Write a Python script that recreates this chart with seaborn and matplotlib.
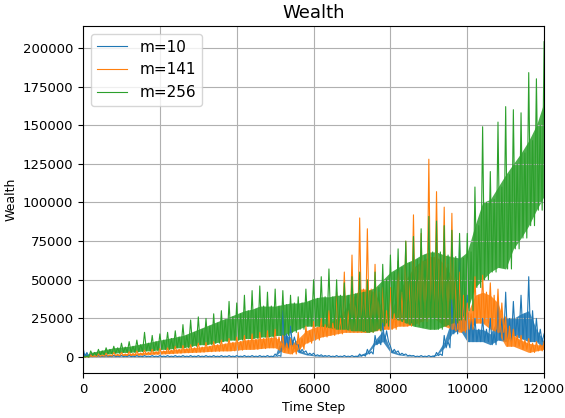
import numpy as np
import pandas as pd
import seaborn as sns
import matplotlib.pyplot as plt
from matplotlib.ticker import MultipleLocator

# time grid (every 200 steps), values in thousands
steps = np.arange(0, 12001, 200)
labels = ["m=10", "m=141", "m=256"]
colors = ["#1f77b4", "#ff7f0e", "#2ca02c"]

# m=10
m10_low = [0, 0.3, 0.3, 0.3, 0.3, 0.3, 0.3, 0.3, 0.3, 0.3,
           0.3, 0.3, 0.3, 0.3, 0.3, 0.3, 0.3, 0.3, 0.3, 0.3,
           0.3, 0.3, 0.3, 0.3, 0.3, 0.5, 5, 8, 3, 1.5,
           0.8, 0.5, 0.3, 0.3, 0.3, 0.3, 0.6, 2, 8, 10,
           3, 1.5, 0.8, 0.3, 0.3, 0.3, 1, 6, 15, 18,
           10, 10, 10, 8, 11, 10, 14, 12, 10, 10,
           5]
m10_core = [3, 1, 0.6, 0.6, 0.6, 0.6, 0.6, 0.6, 0.6, 0.6,
            0.6, 0.6, 0.6, 0.6, 0.6, 0.6, 0.6, 0.6, 0.6, 0.6,
            0.6, 0.6, 0.6, 0.6, 0.6, 1, 15, 13, 5, 2.5,
            1.5, 1, 0.6, 0.6, 0.6, 0.6, 1.5, 3.5, 11, 17,
            5, 2.5, 1.2, 0.6, 0.6, 0.6, 2, 10, 25, 35,
            25, 18, 18, 15, 25, 25, 25, 28, 30, 18,
            10]
m10_peak = [6, 2, 1, 1, 1, 1, 1, 1, 1, 1,
            1, 1, 1, 1, 1, 1, 1, 1, 1, 1,
            1, 1, 1, 1, 1, 2, 30, 20, 8, 4,
            2.5, 1.5, 1, 1, 1, 1, 2, 5, 14, 22,
            7, 4, 2, 1, 1, 1, 3, 14, 37, 75,
            40, 25, 25, 25, 37, 42, 36, 40, 52, 25,
            15]

# m=141
m141_low = [0, 0.3, 0.5, 0.6, 0.8, 1, 1, 1.2, 1.5, 1.8,
            2, 2.2, 2.5, 2.8, 3, 3.2, 3.5, 3.8, 4, 4,
            4.5, 5, 5, 5.5, 6, 6, 3, 2, 5, 9,
            11, 13, 14, 15, 16, 16, 16, 16, 17, 18,
            18, 20, 20, 21, 23, 26, 24, 20, 18, 16,
            18, 22, 22, 18, 16, 7, 7, 5, 3, 4,
            5]
m141_core = [0.3, 1, 1.2, 1.5, 1.8, 2, 2.3, 2.6, 3, 3.5,
             4, 4.5, 5, 5.5, 6, 6.5, 7, 8, 8.5, 9.5,
             10, 11, 11.5, 12, 12.5, 13, 9, 8, 12, 17,
             19, 21, 22, 25, 30, 38, 44, 44, 42, 30,
             28, 42, 50, 58, 62, 65, 65, 60, 52, 40,
             28, 40, 42, 40, 35, 20, 14, 11, 9, 8,
             8]
m141_peak = [0.5, 1.5, 2, 2.5, 3, 3, 3.5, 4, 4.5, 5,
             5.5, 6, 7, 7.5, 8, 9, 9.5, 10, 11, 12,
             13, 14, 15, 16, 17, 18, 14, 12, 16, 20,
             23, 25, 30, 42, 55, 66, 90, 83, 60, 45,
             45, 62, 75, 92, 80, 128, 107, 97, 93, 55,
             35, 52, 53, 48, 44, 26, 18, 14, 12, 10,
             10]

# m=256
m256_low = [0, 1, 1.5, 2, 2.5, 3, 3, 3.5, 4, 4,
            5, 5, 6, 6, 7, 8, 8, 9, 10, 11,
            11, 12, 12, 13, 13, 14, 14, 16, 18, 20,
            20, 20, 19, 18, 18, 17, 17, 16, 17, 20,
            25, 24, 22, 20, 19, 18, 18, 20, 22, 24,
            30, 45, 50, 55, 58, 57, 70, 77, 85, 95,
            104]
m256_core = [0.5, 3, 4, 5, 6, 6.5, 7, 8, 9, 10,
             11, 12, 13, 14, 16, 18, 20, 22, 24, 26,
             28, 30, 31, 33, 33, 33, 34, 35, 35, 36,
             38, 39, 39, 40, 40, 41, 42, 43, 45, 50,
             55, 58, 61, 63, 66, 68, 68, 66, 65, 64,
             68, 85, 100, 102, 110, 118, 125, 132, 140, 150,
             165]
m256_peak = [1, 4, 5, 6, 7, 9, 10, 11, 16, 14,
             15, 16, 17, 21, 24, 26, 25, 28, 30, 36,
             35, 40, 43, 46, 42, 44, 43, 40, 39, 44,
             50, 52, 57, 50, 48, 52, 55, 50, 55, 60,
             66, 70, 75, 78, 83, 91, 88, 85, 82, 80,
             80, 110, 149, 120, 152, 162, 160, 158, 184, 180,
             204]

series = [
    (m10_low, m10_core, m10_peak),
    (m141_low, m141_core, m141_peak),
    (m256_low, m256_core, m256_peak),
]

fig, ax = plt.subplots(figsize=(5.65, 4.18), dpi=100)
fig.subplots_adjust(left=0.147, right=0.963, top=0.938, bottom=0.108)

for (low, core, peak), lbl, c in zip(series, labels, colors):
    low = np.array(low) * 1000
    core = np.array(core) * 1000
    peak = np.array(peak) * 1000
    # jagged trace: peak, low, core, low inside each 200-step slot
    xs = np.column_stack([steps, steps + 50, steps + 100, steps + 150]).ravel()[:-3]
    ys = np.column_stack([peak, low, core, low]).ravel()[:-3]
    df = pd.DataFrame({"Time Step": xs, "Wealth": ys})
    ax.fill_between(steps, low, core, color=c, lw=0, alpha=0.85)
    sns.lineplot(data=df, x="Time Step", y="Wealth", ax=ax, color=c, lw=0.8,
                 label=lbl, sort=False, estimator=None)

ax.set_xlim(0, 12000)
ax.xaxis.set_major_locator(MultipleLocator(2000))
ax.yaxis.set_major_locator(MultipleLocator(25000))
ax.grid(True, color="#b0b0b0", lw=0.8)
ax.tick_params(labelsize=9.5)
ax.set_xlabel("Time Step", fontsize=9)
ax.set_ylabel("Wealth", fontsize=9)
ax.set_title("Wealth", fontsize=13)
ax.legend(loc="upper left", fontsize=11)

plt.savefig("out.png", dpi=100)
